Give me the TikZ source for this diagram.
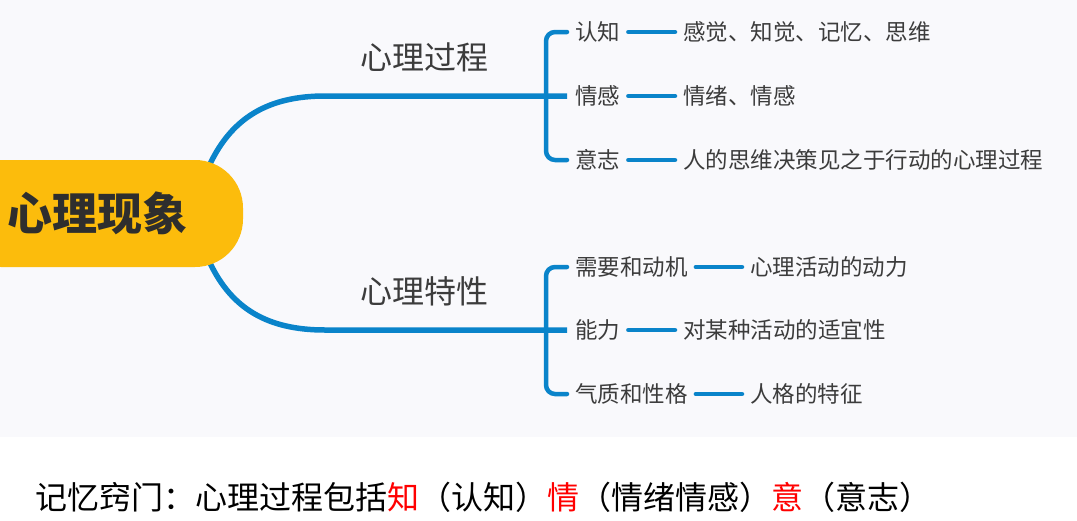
\documentclass[tikz,border=0pt]{standalone}
\usepackage{fontspec}
\setmainfont{Noto Sans CJK SC}
\pgfdeclarelayer{bg}
\pgfsetlayers{bg,main}
\definecolor{bgc}{HTML}{F9F9FC}
\definecolor{blu}{HTML}{0A84CA}
\definecolor{yel}{HTML}{FCBC0C}
\definecolor{txt}{HTML}{3C3C3C}
\definecolor{rootTxt}{HTML}{2E2E2E}
\tikzset{
  rootbox/.style={fill=yel, rounded corners=48pt, minimum width=290pt, minimum height=107pt, inner sep=0pt,
    font=\fontsize{45}{48}\selectfont\bfseries, text=rootTxt},
  branchlbl/.style={font=\fontsize{32}{36}\selectfont, text=txt, inner sep=0pt},
  childlbl/.style={font=\fontsize{22.5}{26}\selectfont, text=txt, inner xsep=8pt, inner ysep=2pt, anchor=west},
  mainline/.style={draw=blu, line width=5.5pt},
  brline/.style={draw=blu, line width=4.5pt, rounded corners=9pt, line cap=round},
  dashline/.style={draw=blu, line width=4.5pt, line cap=round},
}
\begin{document}
\begin{tikzpicture}[x=1pt,y=-1pt]
\useasboundingbox (0,0) rectangle (1077,520);
\clip (0,0) rectangle (1077,520);
\begin{pgfonlayer}{bg}
\fill[white] (0,0) rectangle (1077,520);
\fill[bgc] (0,0) rectangle (1077,437);
\end{pgfonlayer}

\node[rootbox] (root) at (98,213.5) {心理现象};

\node[branchlbl] (p1) at (424,57) {心理过程};
\node[branchlbl] (p2) at (424,291) {心理特性};

\node[childlbl] (a1) at (567,32) {认知};
\node[childlbl] (a2) at (567,96) {情感};
\node[childlbl] (a3) at (567,160) {意志};
\node[childlbl] (l1) at (675,32) {感觉、知觉、记忆、思维};
\node[childlbl] (l2) at (675,96) {情绪、情感};
\node[childlbl] (l3) at (675,160) {人的思维决策见之于行动的心理过程};

\node[childlbl] (b1) at (567,267) {需要和动机};
\node[childlbl] (b2) at (567,330) {能力};
\node[childlbl] (b3) at (567,394) {气质和性格};
\node[childlbl] (m1) at (742,267) {心理活动的动力};
\node[childlbl] (m2) at (675,330) {对某种活动的适宜性};
\node[childlbl] (m3) at (742,394) {人格的特征};

\node[anchor=west, inner sep=0pt, font=\fontsize{32}{36}\selectfont, text=black] (tip) at (35,497)
  {记忆窍门：心理过程包括{\color{red}知}（认知）{\color{red}情}（情绪情感）{\color{red}意}（意志）};

\coordinate (s1) at (210,164);
\coordinate (s2) at (210,263);
\coordinate (h1) at (325,96);
\coordinate (h2) at (325,330);
\coordinate (v1) at (546,96);
\coordinate (v2) at (546,330);

\begin{pgfonlayer}{bg}
\draw[mainline] (s1) .. controls (232,118) and (268,96) .. (h1) -- (a2.west);
\draw[mainline] (s2) .. controls (232,309) and (268,330) .. (h2) -- (b2.west);
\draw[brline] (a1.west) -| (v1) |- (a3.west);
\draw[brline] (b1.west) -| (v2) |- (b3.west);
\end{pgfonlayer}
\draw[dashline] (a1.east) -- (l1.west);
\draw[dashline] (a2.east) -- (l2.west);
\draw[dashline] (a3.east) -- (l3.west);
\draw[dashline] (b1.east) -- (m1.west);
\draw[dashline] (b2.east) -- (m2.west);
\draw[dashline] (b3.east) -- (m3.west);
\end{tikzpicture}
\end{document}
